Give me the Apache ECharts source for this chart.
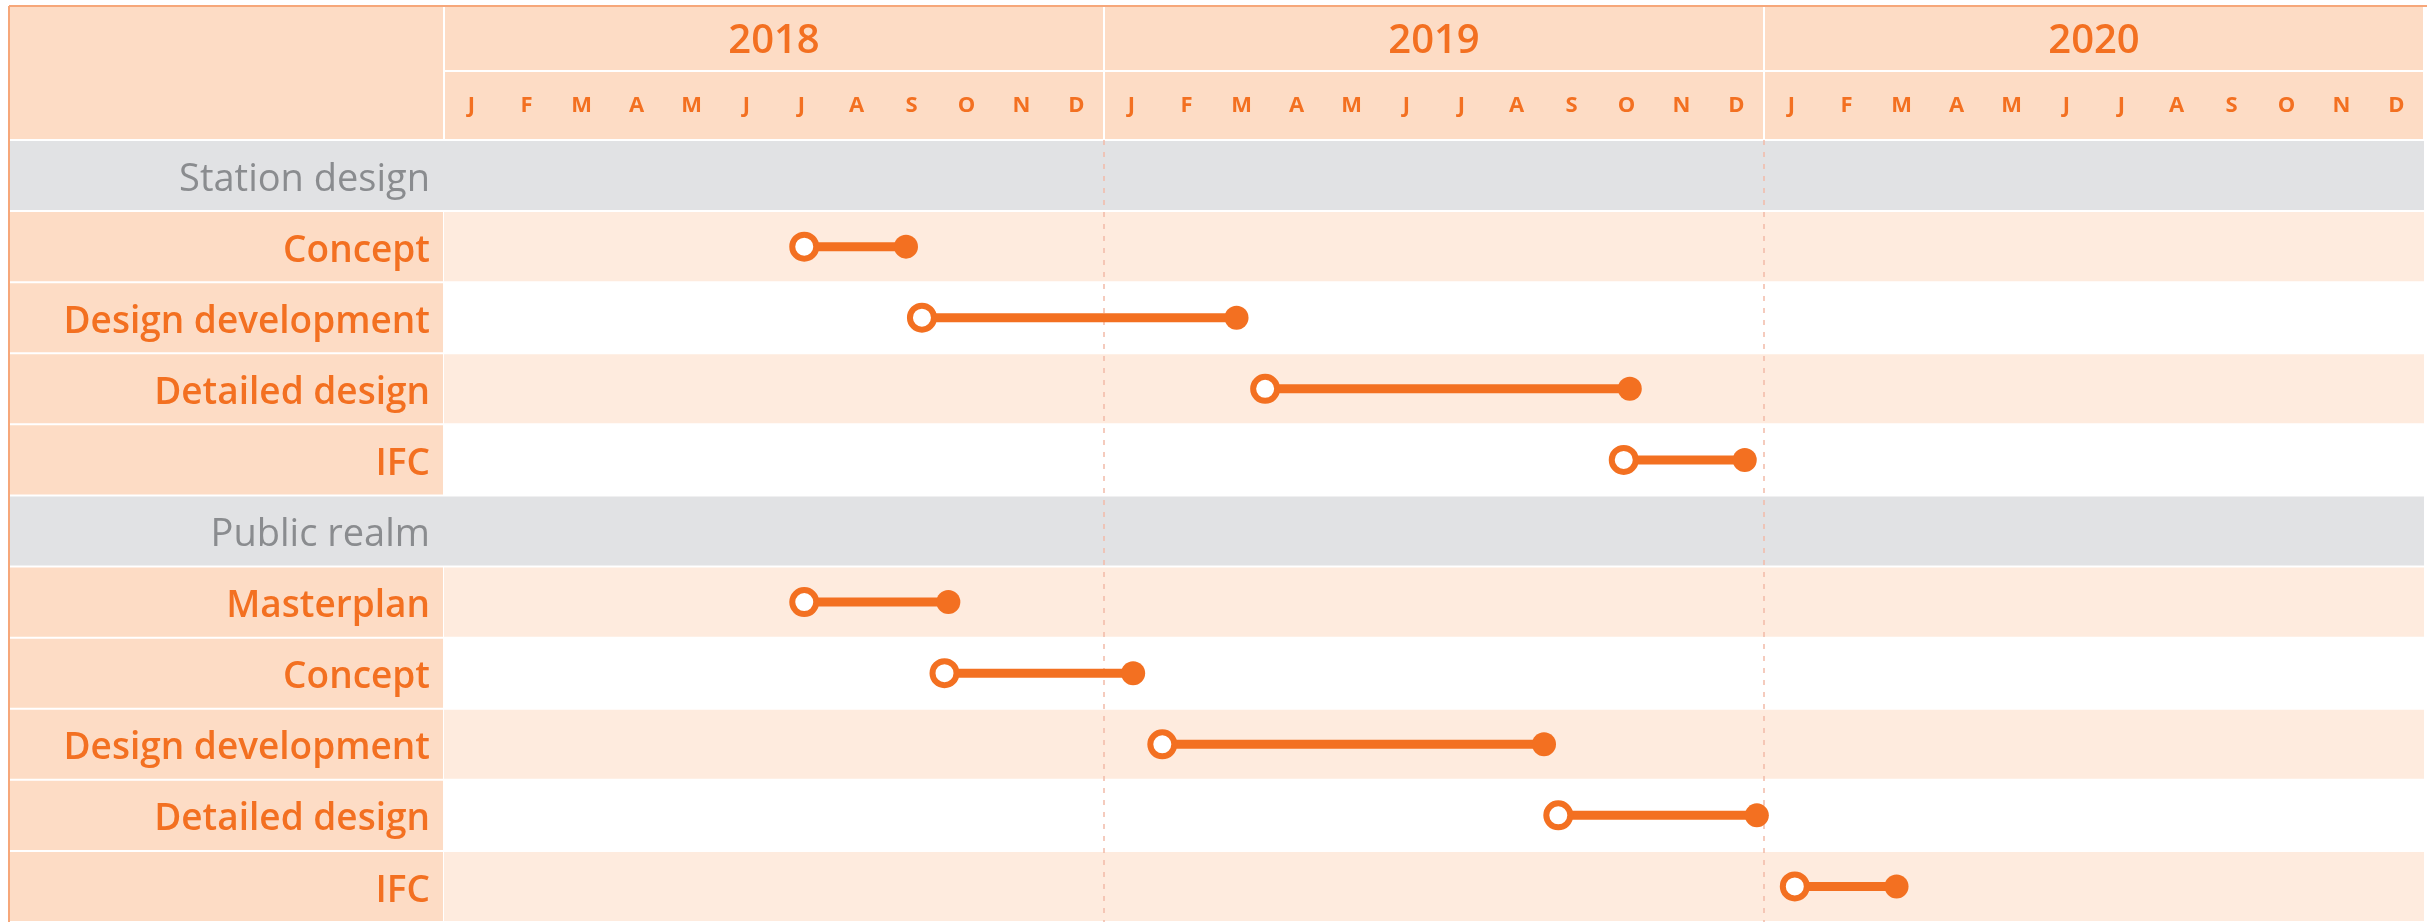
<!DOCTYPE html>
<html>
<head>
<meta charset="utf-8">
<script src="https://cdn.jsdelivr.net/npm/echarts@6/dist/echarts.min.js"></script>
<style>
html,body{margin:0;padding:0;background:#fff;}
#chart{width:2427px;height:922px;}
</style>
</head>
<body>
<div id="chart"></div>
<script>
// ---- DATA ----
const categories = ['Station design','Concept','Design development','Detailed design','IFC','Public realm','Masterplan','Concept','Design development','Detailed design','IFC'];
// start / end in months since 1 Jan 2018 (null = group header row)
const starts = [null, 6.55, 8.69, 14.93, 21.45, null, 6.55, 9.10, 13.06, 20.26, 24.56];
const ends   = [null, 8.40, 14.41, 21.56, 23.65, null, 9.17, 12.53, 20.00, 23.87, 26.41];
const years = ['2018','2019','2020'];
const monthLetters = ['J','F','M','A','M','J','J','A','S','O','N','D'];
const monthLabels = years.flatMap(() => monthLetters);
const yearBoundaries = [12, 24];

// ---- STYLE ----
const ORANGE = '#F37021';
const HEADER_PEACH = '#FDDCC5';
const ROW_PEACH = '#FEEBDE';
const GRAY = '#E1E2E4';
const GRAY_TEXT = '#8A8C8F';
const FONT = '"Open Sans", sans-serif';

const isGroup = starts.map(s => s === null);
let k = 0;
const bandColor = categories.map((c, i) => {
  if (isGroup[i]) { k = 0; return GRAY; }
  k++; return (k % 2 === 1) ? ROW_PEACH : '#FFFFFF';
});

const chart = echarts.init(document.getElementById('chart'));

const bgData = categories.map((c, i) => [0, i]);
const dumbData = [];
categories.forEach((c, i) => { if (!isGroup[i]) dumbData.push([starts[i], ends[i], i]); });

chart.setOption({
  animation: false,
  backgroundColor: '#fff',
  grid: { left: 444, right: 3, top: 140, bottom: 0, containLabel: false },
  graphic: [
    { type: 'rect', z: 0, shape: { x: 10, y: 7, width: 2414, height: 132 }, style: { fill: HEADER_PEACH } },
    { type: 'line', z: 100, shape: { x1: 9, y1: 6, x2: 2427, y2: 6 }, style: { stroke: '#F6A77A', lineWidth: 2 } },
    { type: 'line', z: 100, shape: { x1: 9, y1: 6, x2: 9, y2: 922 }, style: { stroke: '#F6A77A', lineWidth: 2 } }
  ],
  xAxis: [
    { type: 'value', min: 0, max: 36, show: false },
    {
      type: 'category', data: monthLabels, position: 'top', offset: 69, boundaryGap: true, z: 5,
      axisLine: { show: true, lineStyle: { color: '#FFFFFF', width: 2 } },
      axisTick: { show: false },
      axisLabel: { interval: 0, inside: true, margin: 35, verticalAlign: 'middle', color: ORANGE, fontSize: 22, fontWeight: 'bold', fontFamily: FONT },
      splitLine: { show: false }
    },
    {
      type: 'category', data: years, position: 'top', offset: 0, boundaryGap: true, z: 5,
      axisLine: { show: false },
      axisTick: { show: true, interval: 0, length: 133, lineStyle: { color: '#FFFFFF', width: 2 } },
      axisLabel: { interval: 0, margin: 98, verticalAlign: 'middle', color: ORANGE, fontSize: 40, fontWeight: 600, fontFamily: FONT },
      splitLine: { show: false }
    }
  ],
  yAxis: {
    type: 'category', data: categories, inverse: true, z: 10,
    axisLine: { show: false }, axisTick: { show: false }, splitLine: { show: false },
    axisLabel: {
      interval: 0, margin: 14,
      formatter: (v, i) => (isGroup[i] ? '{g|' + v + '}' : '{o|' + v + '}'),
      rich: {
        g: { color: GRAY_TEXT, fontSize: 38, fontWeight: 500, fontFamily: FONT, padding: [9, 0, 0, 0] },
        o: { color: ORANGE, fontSize: 37, fontWeight: 600, fontFamily: FONT, padding: [9, 0, 0, 0] }
      }
    }
  },
  series: [
    {
      type: 'custom', name: 'rows', z: 1, silent: true, clip: false,
      encode: { x: 0, y: 1 },
      data: bgData,
      renderItem: (params, api) => {
        const i = api.value(1);
        const c = api.coord([0, i]);
        const h = api.size([0, 1])[1];
        const cs = params.coordSys;
        const y0 = c[1] - h / 2 + 1;
        const hh = h - 2;
        const children = [];
        if (isGroup[i]) {
          children.push({ type: 'rect', shape: { x: 10, y: y0, width: cs.x + cs.width - 10, height: hh }, style: { fill: GRAY } });
        } else {
          children.push({ type: 'rect', shape: { x: 10, y: y0, width: cs.x - 10 - 1, height: hh }, style: { fill: HEADER_PEACH } });
          children.push({ type: 'rect', shape: { x: cs.x, y: y0, width: cs.width, height: hh }, style: { fill: bandColor[i] } });
        }
        return { type: 'group', children };
      },
      markLine: {
        silent: true, symbol: 'none', z: 2,
        label: { show: false },
        lineStyle: { color: '#F2BBA8', width: 1.5, type: [5, 7] },
        data: yearBoundaries.map(v => ({ xAxis: v }))
      }
    },
    {
      type: 'custom', name: 'tasks', z: 3, clip: false,
      encode: { x: [0, 1], y: 2 },
      data: dumbData,
      renderItem: (params, api) => {
        const p1 = api.coord([api.value(0), api.value(2)]);
        const p2 = api.coord([api.value(1), api.value(2)]);
        return {
          type: 'group',
          children: [
            { type: 'line', shape: { x1: p1[0], y1: p1[1], x2: p2[0], y2: p2[1] }, style: { stroke: ORANGE, lineWidth: 9 } },
            { type: 'circle', shape: { cx: p2[0], cy: p2[1], r: 12 }, style: { fill: ORANGE } },
            { type: 'circle', shape: { cx: p1[0], cy: p1[1], r: 12 }, style: { fill: '#FFFFFF', stroke: ORANGE, lineWidth: 6 } }
          ]
        };
      }
    }
  ]
});
</script>
</body>
</html>
